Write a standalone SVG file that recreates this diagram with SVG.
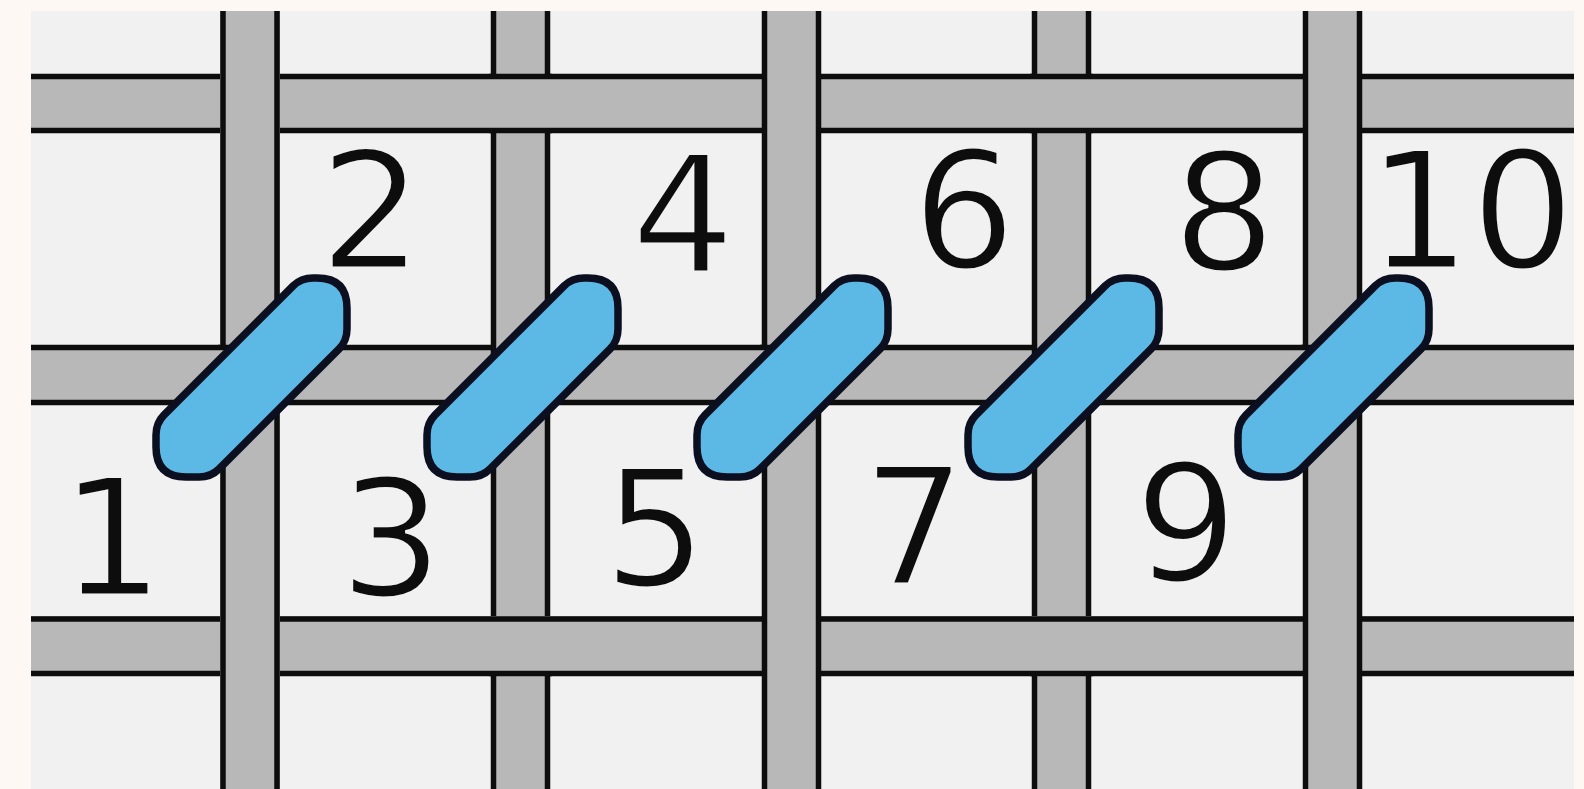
<svg xmlns="http://www.w3.org/2000/svg" xmlns:xlink="http://www.w3.org/1999/xlink" width="1584" height="789" viewBox="0 0 1584 789">
  <defs>
    <style>
      .band { fill: #b8b8b8; }
      .edge { stroke: #0d0d0d; stroke-width: 5.5; fill: none; }
      .stitch { fill: #5cb9e5; stroke: #0b0f1f; stroke-width: 7.5; stroke-linejoin: round; }
      .num { font-family: "DejaVu Sans", Verdana, sans-serif; font-size: 163px; fill: #0d0d0d; stroke: #f1f1f1; stroke-width: 3; text-anchor: middle; }
    </style>
    <path id="st" class="stitch" d="M 313,278 L 317,278 Q 347,278 347,308 L 347,329 Q 347,341 339,349 L 219,469 Q 211,477 199,477 L 186,477 Q 156,477 156,447 L 156,435 Q 156,423 164,415 L 293,286 Q 301,278 313,278 Z"/>
  </defs>

  <rect x="0" y="0" width="1584" height="789" fill="#fdf8f4"/>
  <rect x="31" y="11" width="1543" height="778" fill="#f1f1f1"/>

  <g id="horizontal-threads">
    <rect class="band" x="31" y="74" width="1543" height="59"/>
    <line class="edge" x1="31" y1="76.5" x2="1574" y2="76.5"/>
    <line class="edge" x1="31" y1="130.5" x2="1574" y2="130.5"/>
    <rect class="band" x="31" y="345" width="1543" height="60"/>
    <line class="edge" x1="31" y1="347.5" x2="1574" y2="347.5"/>
    <line class="edge" x1="31" y1="402.5" x2="1574" y2="402.5"/>
    <rect class="band" x="31" y="616" width="1543" height="60"/>
    <line class="edge" x1="31" y1="619" x2="1574" y2="619"/>
    <line class="edge" x1="31" y1="673.5" x2="1574" y2="673.5"/>
  </g>

  <g id="vertical-threads">
    <rect class="band" x="220" y="11" width="60" height="778"/>
    <line class="edge" x1="223" y1="11" x2="223" y2="789"/>
    <line class="edge" x1="277" y1="11" x2="277" y2="789"/>
    <rect class="band" x="491" y="11" width="59" height="778"/>
    <line class="edge" x1="493.5" y1="11" x2="493.5" y2="789"/>
    <line class="edge" x1="547.5" y1="11" x2="547.5" y2="789"/>
    <rect class="band" x="762" y="11" width="59" height="778"/>
    <line class="edge" x1="764.5" y1="11" x2="764.5" y2="789"/>
    <line class="edge" x1="818.5" y1="11" x2="818.5" y2="789"/>
    <rect class="band" x="1032" y="11" width="59" height="778"/>
    <line class="edge" x1="1034.5" y1="11" x2="1034.5" y2="789"/>
    <line class="edge" x1="1088.5" y1="11" x2="1088.5" y2="789"/>
    <rect class="band" x="1303" y="11" width="59" height="778"/>
    <line class="edge" x1="1305.5" y1="11" x2="1305.5" y2="789"/>
    <line class="edge" x1="1359.5" y1="11" x2="1359.5" y2="789"/>
  </g>

  <g id="weave-overlaps">
    <rect class="band" x="489" y="74" width="63" height="59"/>
    <line class="edge" x1="489" y1="76.5" x2="552" y2="76.5"/>
    <line class="edge" x1="489" y1="130.5" x2="552" y2="130.5"/>
    <rect class="band" x="1030" y="74" width="63" height="59"/>
    <line class="edge" x1="1030" y1="76.5" x2="1093" y2="76.5"/>
    <line class="edge" x1="1030" y1="130.5" x2="1093" y2="130.5"/>
    <rect class="band" x="218" y="345" width="64" height="60"/>
    <line class="edge" x1="218" y1="347.5" x2="282" y2="347.5"/>
    <line class="edge" x1="218" y1="402.5" x2="282" y2="402.5"/>
    <rect class="band" x="760" y="345" width="63" height="60"/>
    <line class="edge" x1="760" y1="347.5" x2="823" y2="347.5"/>
    <line class="edge" x1="760" y1="402.5" x2="823" y2="402.5"/>
    <rect class="band" x="1301" y="345" width="63" height="60"/>
    <line class="edge" x1="1301" y1="347.5" x2="1364" y2="347.5"/>
    <line class="edge" x1="1301" y1="402.5" x2="1364" y2="402.5"/>
    <rect class="band" x="489" y="616" width="63" height="60"/>
    <line class="edge" x1="489" y1="619" x2="552" y2="619"/>
    <line class="edge" x1="489" y1="673.5" x2="552" y2="673.5"/>
    <rect class="band" x="1030" y="616" width="63" height="60"/>
    <line class="edge" x1="1030" y1="619" x2="1093" y2="619"/>
    <line class="edge" x1="1030" y1="673.5" x2="1093" y2="673.5"/>
  </g>

  <g id="stitch-1"><use xlink:href="#st" href="#st"/></g>
  <g id="stitch-2"><use xlink:href="#st" href="#st" transform="translate(271,0)"/></g>
  <g id="stitch-3"><use xlink:href="#st" href="#st" transform="translate(541,0)"/></g>
  <g id="stitch-4"><use xlink:href="#st" href="#st" transform="translate(812,0)"/></g>
  <g id="stitch-5"><use xlink:href="#st" href="#st" transform="translate(1082,0)"/></g>

  <g id="labels">
    <text class="num" x="112" y="595">1</text>
    <text class="num" x="371" y="268">2</text>
    <text class="num" x="391" y="596">3</text>
    <text class="num" x="683" y="272">4</text>
    <text class="num" x="655" y="586">5</text>
    <text class="num" x="964" y="268">6</text>
    <text class="num" x="914" y="584">7</text>
    <text class="num" x="1224" y="270">8</text>
    <text class="num" x="1186" y="581">9</text>
    <text class="num" x="1471" y="268">10</text>
  </g>
</svg>
